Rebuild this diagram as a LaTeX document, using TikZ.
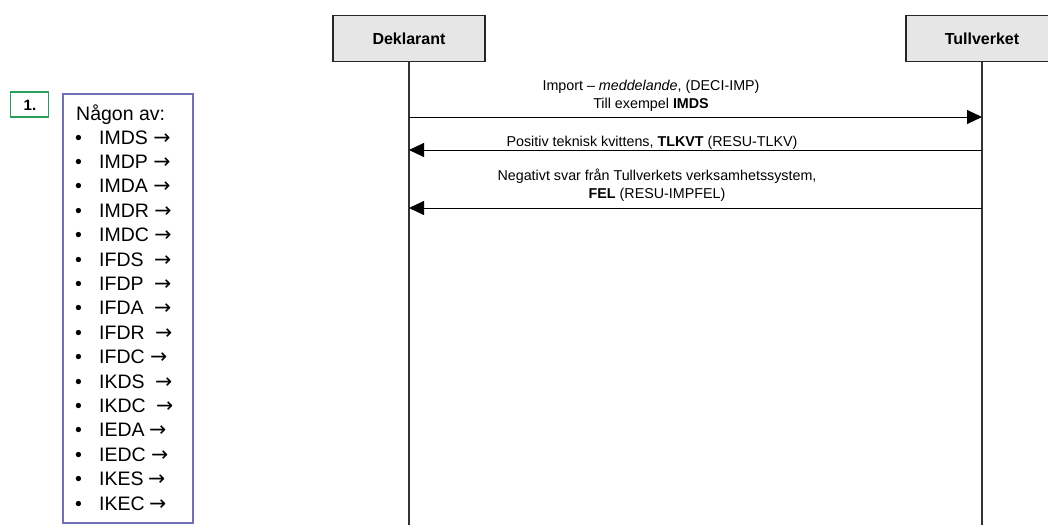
\documentclass[tikz,border=0pt]{standalone}
\usepackage{fontspec}
\setmainfont{Liberation Sans}
\newfontfamily\arrowfont{DejaVu Sans}
\usetikzlibrary{arrows.meta}
\definecolor{actorgray}{RGB}{230,230,230}
\definecolor{stepgreen}{RGB}{40,160,90}
\definecolor{listblue}{RGB}{112,112,180}

\begin{document}
\begin{tikzpicture}[x=1pt, y=-1pt,
  actor/.style={draw=black!85, line width=1.5pt, fill=actorgray, minimum width=152pt, minimum height=46pt, inner sep=0pt, font=\bfseries\fontsize{16}{19}\selectfont},
  lifeline/.style={draw=black!80, line width=1.1pt},
  msg/.style={draw, line width=0.9pt, -{Triangle[length=15pt,width=14pt]}},
  msglabel/.style={anchor=base, inner sep=0pt, font=\fontsize{14.3}{17}\selectfont},
  entry/.style={anchor=base west, inner sep=0pt, font=\fontsize{19.5}{24}\selectfont}
]
\useasboundingbox (0,0) rectangle (1048,525);

% actors and lifelines
\node[actor] (deklarant) at (409,38.5) {Deklarant};
\node[actor] (tullverket) at (982,38.5) {Tullverket};
\coordinate (dkend) at (409,525);
\coordinate (tvend) at (982,525);
\draw[lifeline] (deklarant.south) -- (dkend);
\draw[lifeline] (tullverket.south) -- (tvend);

% messages
\coordinate (dk1) at (409,117);
\coordinate (tv1) at (982,117);
\coordinate (dk2) at (409,150);
\coordinate (tv2) at (982,150);
\coordinate (dk3) at (409,208);
\coordinate (tv3) at (982,208);

\node[msglabel] (imp1) at (651,90) {Import – \textit{meddelande}, (DECI-IMP)};
\node[msglabel] (imp2) at (651,108) {Till exempel \textbf{IMDS}};
\node[msglabel] (tlkvt) at (652,146) {Positiv teknisk kvittens, \textbf{TLKVT} (RESU-TLKV)};
\node[msglabel] (fel1) at (657,180) {Negativt svar från Tullverkets verksamhetssystem,};
\node[msglabel] (fel2) at (657,198) {\textbf{FEL} (RESU-IMPFEL)};

\draw[msg] (dk1) -- (tv1);
\draw[msg] (tv2) -- (dk2);
\draw[msg] (tv3) -- (dk3);

% step marker and message list
\node[draw=stepgreen, line width=1.6pt, minimum width=38pt, minimum height=25pt, inner sep=0pt] (stepone) at (29.5,104.5) {};
\node[anchor=base, inner sep=0pt, font=\bfseries\fontsize{15}{17}\selectfont] (steplabel) at (30,110) {1.};
\node[draw=listblue, line width=1.6pt, minimum width=130pt, minimum height=429pt, inner sep=0pt] (msglist) at (128,308.5) {};
\node[entry] (listhead) at (76,120) {Någon av:};
\foreach \code/\gap [count=\i] in {IMDS/0, IMDP/0, IMDA/0, IMDR/0, IMDC/0, IFDS/5, IFDP/5, IFDA/5, IFDR/5, IFDC/0, IKDS/5, IKDC/5, IEDA/-1, IEDC/0, IKES/-1, IKEC/-1} {
  \node[entry] (bullet\i) at (75,{144+24.4*(\i-1)}) {•};
  \node[entry] (item\i) at (99,{144+24.4*(\i-1)}) {\code\ \hspace{\gap pt}{\arrowfont\fontsize{20.5}{24}\selectfont →}};
}

\end{tikzpicture}
\end{document}
